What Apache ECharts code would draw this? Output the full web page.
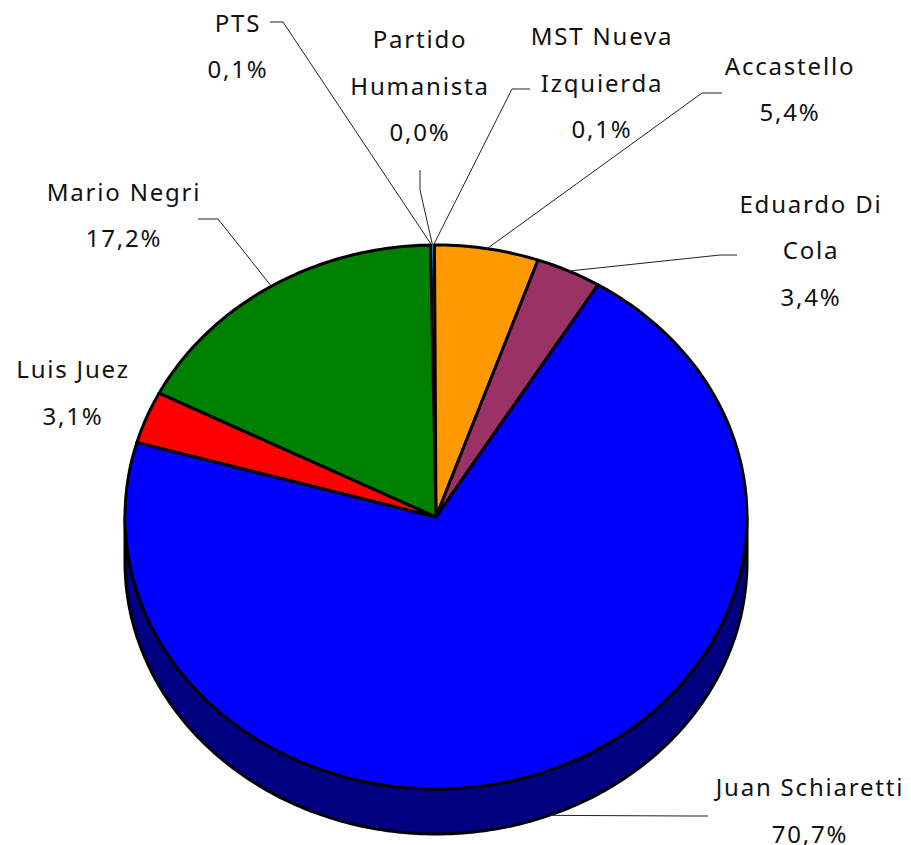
<!DOCTYPE html>
<html>
<head>
<meta charset="utf-8">
<style>
  html, body { margin: 0; padding: 0; background: #fff; }
  #chart { width: 911px; height: 845px; }
  #chart text { letter-spacing: 1.8px; }
</style>
<script src="https://cdn.jsdelivr.net/npm/echarts@6/dist/echarts.min.js"></script>
</head>
<body>
<div id="chart"></div>
<script>
// clockwise from the top
var names = ['PTS', 'Partido\nHumanista', 'MST Nueva\nIzquierda', 'Accastello', 'Eduardo Di\nCola', 'Juan Schiaretti', 'Luis Juez', 'Mario Negri'];
var values = [0.1, 0.0, 0.1, 5.4, 3.4, 70.7, 3.1, 17.2];
var colors = ['#0066cc', '#ffffff', '#0066cc', '#ff9900', '#993366', '#0000ff', '#ff0000', '#008000'];

// label centre, and the elbow of the leader line (null = no leader)
var labelPos = [[238, 45.5], [420, 85], [602, 82], [790, 88.5], [811, 249.5], [810, 810], [73, 392], [124, 214.5]];
var elbows = [
  [[270, 22], [283, 22]],
  [[420, 170], [420, 190]],
  [[530, 89], [512, 89]],
  [[722, 93], [702, 93]],
  [[737, 255], [720, 255]],
  [[708, 816], [690, 816]],
  null,
  [[198, 219], [218, 219]]
];

var cx = 436, cy = 517, rx = 311, ry = 272, depth = 45;
var startAngle = -1;
var total = values.reduce(function (a, b) { return a + b; }, 0);

function pt(deg, dy) {
  var a = deg * Math.PI / 180;
  return [cx + rx * Math.sin(a), cy + (dy || 0) - ry * Math.cos(a)];
}
function angleBefore(idx) {
  var sum = 0;
  for (var i = 0; i < idx; i++) sum += values[i];
  return startAngle + sum / total * 360;
}
function arc(from, to, dy) {
  var pts = [];
  var n = Math.max(1, Math.ceil(Math.abs(to - from)));
  for (var i = 0; i <= n; i++) pts.push(pt(from + (to - from) * i / n, dy));
  return pts;
}

function renderWall() {
  var pts = arc(90, 270, depth).concat(arc(270, 90, 0));
  return {
    type: 'polygon',
    shape: { points: pts },
    style: { fill: '#000080', stroke: '#000', lineWidth: 3, lineJoin: 'round' }
  };
}

function renderSlice(params, api) {
  var i = params.dataIndex;
  var v = api.value(0);
  var from = angleBefore(i);
  var to = from + v / total * 360;
  // the tiny slices are thinner than their outline, fill only
  var thin = v < 1;
  return {
    type: 'polygon',
    shape: { points: [[cx, cy]].concat(arc(from, to, 0)) },
    style: { fill: colors[i], stroke: thin ? null : '#000', lineWidth: thin ? 0 : 3, lineJoin: 'round' }
  };
}

function renderLabel(params, api) {
  var i = params.dataIndex;
  var v = api.value(0);
  var mid = angleBefore(i) + v / total * 180;
  // leaders of slices on the front half start from the wall's lower edge
  var front = mid > 90 && mid < 270;
  var kids = [];
  if (elbows[i]) {
    var end = pt(mid, front ? depth : 0);
    kids.push({
      type: 'polyline',
      shape: { points: elbows[i].concat([end]) },
      style: { fill: null, stroke: '#222', lineWidth: 1 }
    });
  }
  kids.push({
    type: 'text',
    x: labelPos[i][0],
    y: labelPos[i][1],
    style: {
      text: names[i] + '\n' + v.toFixed(1).replace('.', ',') + '%',
      fill: '#111',
      font: '24px "Noto Sans"',
      lineHeight: 46.5,
      align: 'center',
      verticalAlign: 'middle'
    }
  });
  return { type: 'group', children: kids };
}

var chart = echarts.init(document.getElementById('chart'), null, { renderer: 'svg' });
chart.setOption({
  animation: false,
  backgroundColor: '#fff',
  series: [
    { type: 'custom', coordinateSystem: 'none', data: [[1]], renderItem: renderWall, silent: true, z: 1 },
    { type: 'custom', coordinateSystem: 'none', data: values.map(function (v) { return [v]; }), renderItem: renderSlice, z: 2 },
    { type: 'custom', coordinateSystem: 'none', data: values.map(function (v) { return [v]; }), renderItem: renderLabel, silent: true, z: 3 }
  ]
});
</script>
</body>
</html>
